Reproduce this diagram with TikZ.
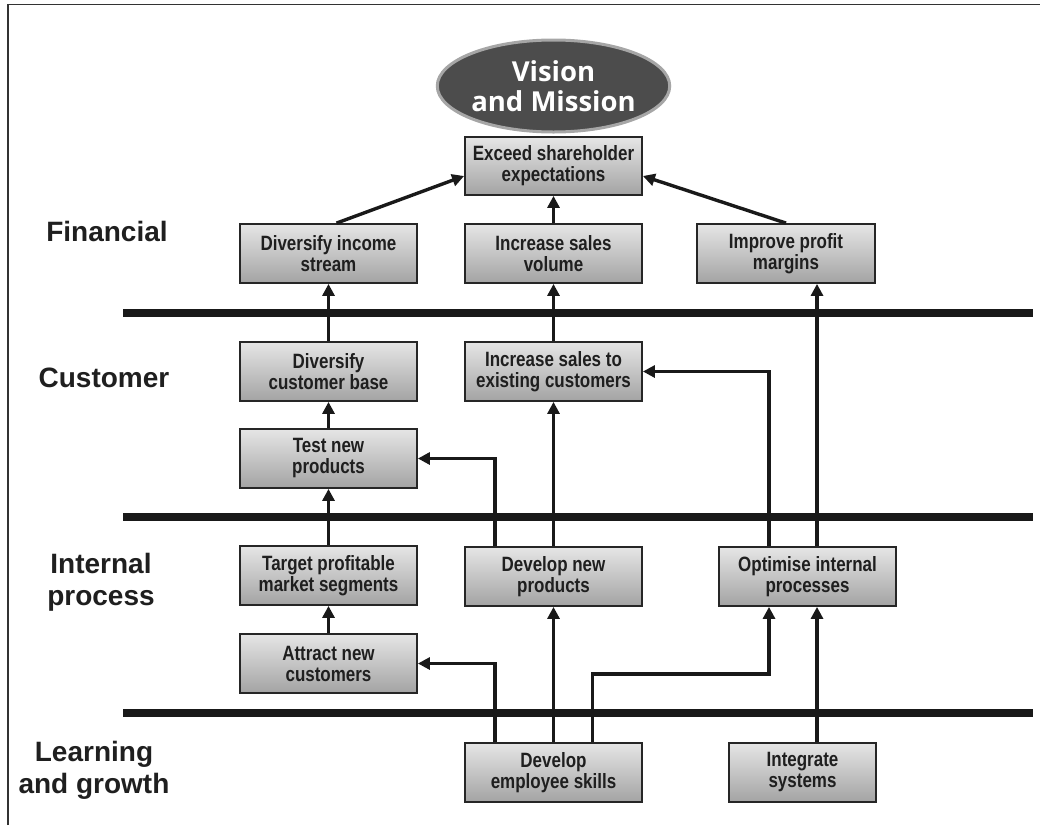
\documentclass[tikz,border=0pt]{standalone}
\usepackage{fontspec}
\setmainfont{Liberation Sans}
\newfontfamily\boxfont[FakeStretch=0.82]{Liberation Sans}
\newfontfamily\titlefont{Open Sans}
\usetikzlibrary{arrows.meta,shapes.geometric,calc}

\begin{document}
\begin{tikzpicture}[x=1pt,y=-1pt,
  box/.style={draw=black!85, line width=1.8pt, top color=black!10, bottom color=black!36,
    minimum width=177pt, minimum height=59pt, inner sep=0pt, align=center,
    font=\boxfont\bfseries\fontsize{20.7}{21}\selectfont, text=black!88},
  arr/.style={draw=black!90, line width=3.4pt, line join=miter,
    -{Triangle[length=12pt,width=12pt]}},
  sep/.style={draw=black!90, line width=8pt},
  lane/.style={font=\bfseries\fontsize{28}{32}\selectfont, text=black!88, align=center, inner sep=0pt},
  frameline/.style={draw=black!80, line width=1.5pt}]

\useasboundingbox (0,0) rectangle (1040,825);

% outer frame (only top and left edges lie inside the page)
\draw[frameline] (8,825) -- (8,4.5) -- (1040,4.5);

% perspective separators
\draw[sep] (123,313) -- (1033,313);
\draw[sep] (123,517) -- (1033,517);
\draw[sep] (123,713) -- (1033,713);

% perspective labels
\node[lane] (lfin)  at (107,231) {Financial};
\node[lane] (lcus)  at (104,378) {Customer};
\node[lane] (lint)  at (101,582) {Internal\\process};
\node[lane] (llrn)  at (94,770) {Learning\\and growth};

% vision
\node[ellipse, draw=black!35, line width=3pt, fill=black!70, minimum width=208pt,
  minimum height=92pt, inner sep=0pt, align=center, text=white,
  font=\titlefont\bfseries\fontsize{27.5}{30}\selectfont] (vision) at (553.5,86) {Vision\\and Mission};

% objectives
\node[box, minimum height=58pt] (exceed) at (553.5,166) {Exceed shareholder\\expectations};
\node[box] (divinc)   at (328.5,253.5) {Diversify income\\stream};
\node[box] (incvol)   at (553.5,253.5) {Increase sales\\volume};
\node[box, minimum width=178pt] (profit) at (786,253.5) {Improve profit\\margins};
\node[box] (divcust)  at (328.5,371.5) {Diversify\\customer base};
\node[box] (existing) at (553.5,371.5) {Increase sales to\\existing customers};
\node[box] (testnew)  at (328.5,458.5) {Test new\\products};
\node[box] (target)   at (328.5,575.5) {Target profitable\\market segments};
\node[box] (devnew)   at (553.5,576.5) {Develop new\\products};
\node[box] (optim)    at (807.5,576.5) {Optimise internal\\processes};
\node[box] (attract)  at (328.5,663.5) {Attract new\\customers};
\node[box] (skills)   at (553.5,772.5) {Develop\\employee skills};
\node[box, minimum width=147pt] (integ) at (802.5,772.5) {Integrate\\systems};

\coordinate (jog) at (0,674);

% cause-and-effect links
\draw[arr] ([xshift=8pt]divinc.north) -- ([yshift=-10pt]exceed.west);
\draw[arr] (incvol.north) -- (exceed.south);
\draw[arr] (profit.north) -- ([yshift=-10pt]exceed.east);

\draw[arr] (divcust.north) -- (divinc.south);
\draw[arr] (existing.north) -- (incvol.south);
\draw[arr] ([xshift=9.5pt]optim.north) -- ([xshift=9.5pt]optim.north |- profit.south);

\draw[arr] (testnew.north) -- (divcust.south);
\draw[arr] (devnew.north) -- (existing.south);
\draw[arr] ([xshift=-58.5pt]devnew.north) |- (testnew.east);
\draw[arr] ([xshift=-38.5pt]optim.north) |- (existing.east);

\draw[arr] (target.north) -- (testnew.south);
\draw[arr] (attract.north) -- (target.south);

\draw[arr] (skills.north) -- (devnew.south);
\draw[arr] ([xshift=-58.5pt]skills.north) |- (attract.east);
\draw[arr] ([xshift=39pt]skills.north) -- ([xshift=39pt]skills.north |- jog)
  -- ([xshift=-38.5pt]optim.south |- jog) -- ([xshift=-38.5pt]optim.south);
\draw[arr] ([xshift=14.5pt]integ.north) -- ([xshift=14.5pt]integ.north |- optim.south);

\end{tikzpicture}
\end{document}
